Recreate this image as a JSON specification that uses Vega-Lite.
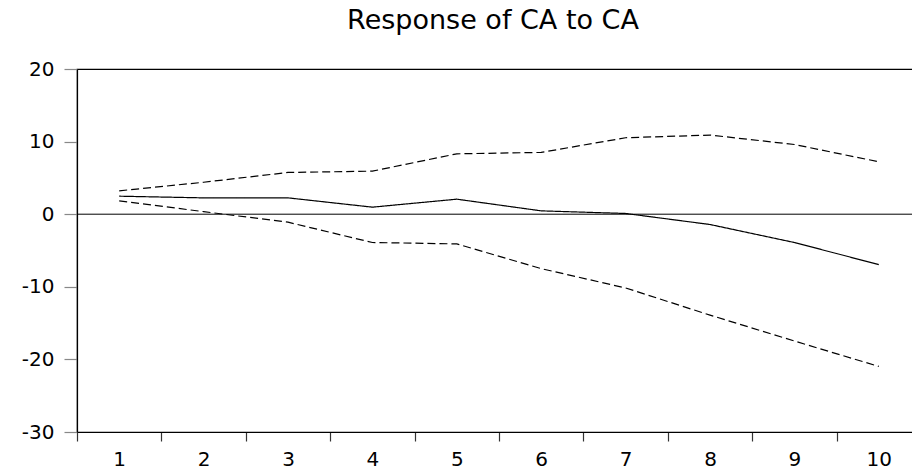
{
  "$schema": "https://vega.github.io/schema/vega-lite/v6.json",
  "width": 844,
  "height": 363,
  "autosize": {"type": "none"},
  "padding": {"left": 77, "top": 69, "right": 0, "bottom": 38},
  "background": "white",
  "title": {
    "text": "Response of CA to CA",
    "font": "DejaVu Sans",
    "fontSize": 27,
    "fontWeight": "normal",
    "color": "black",
    "anchor": "middle",
    "baseline": "alphabetic",
    "offset": 3,
    "dx": -6
  },
  "config": {
    "view": {"stroke": "black", "strokeWidth": 1.2},
    "axis": {
      "labelFont": "DejaVu Sans",
      "labelFontSize": 20,
      "labelColor": "black",
      "grid": false,
      "title": null,
      "domainColor": "black",
      "domainWidth": 1.2
    }
  },
  "datasets": {
    "irf": [
      {"period": 1, "series": "Response", "value": 2.48},
      {"period": 2, "series": "Response", "value": 2.25},
      {"period": 3, "series": "Response", "value": 2.25},
      {"period": 4, "series": "Response", "value": 0.97},
      {"period": 5, "series": "Response", "value": 2.07},
      {"period": 6, "series": "Response", "value": 0.46},
      {"period": 7, "series": "Response", "value": 0.1},
      {"period": 8, "series": "Response", "value": -1.42},
      {"period": 9, "series": "Response", "value": -3.9},
      {"period": 10, "series": "Response", "value": -6.94},
      {"period": 1, "series": "Upper", "value": 3.22},
      {"period": 2, "series": "Upper", "value": 4.4},
      {"period": 3, "series": "Upper", "value": 5.75},
      {"period": 4, "series": "Upper", "value": 5.93},
      {"period": 5, "series": "Upper", "value": 8.32},
      {"period": 6, "series": "Upper", "value": 8.51},
      {"period": 7, "series": "Upper", "value": 10.53},
      {"period": 8, "series": "Upper", "value": 10.9},
      {"period": 9, "series": "Upper", "value": 9.6},
      {"period": 10, "series": "Upper", "value": 7.22},
      {"period": 1, "series": "Lower", "value": 1.84},
      {"period": 2, "series": "Lower", "value": 0.35},
      {"period": 3, "series": "Lower", "value": -1.1},
      {"period": 4, "series": "Lower", "value": -3.9},
      {"period": 5, "series": "Lower", "value": -4.09},
      {"period": 6, "series": "Lower", "value": -7.5},
      {"period": 7, "series": "Lower", "value": -10.16},
      {"period": 8, "series": "Lower", "value": -13.9},
      {"period": 9, "series": "Lower", "value": -17.47},
      {"period": 10, "series": "Lower", "value": -20.97}
    ]
  },
  "layer": [
    {
      "data": {"values": [{"zero": 0}]},
      "mark": {"type": "rule", "color": "black", "strokeWidth": 1},
      "encoding": {
        "y": {"field": "zero", "type": "quantitative", "scale": {"domain": [-30, 20]}}
      }
    },
    {
      "data": {"name": "irf"},
      "mark": {"type": "line", "color": "black", "strokeWidth": 1.2},
      "encoding": {
        "x": {
          "field": "period",
          "type": "ordinal",
          "bandPosition": 0.5,
          "scale": {"type": "band", "paddingInner": 0, "paddingOuter": 0},
          "axis": {
            "labelAngle": 0,
            "tickBand": "extent",
            "tickSize": 9,
            "tickColor": "#333333",
            "tickWidth": 1.2,
            "labelPadding": 8,
            "labelBaseline": "top"
          }
        },
        "y": {
          "field": "value",
          "type": "quantitative",
          "scale": {"domain": [-30, 20], "nice": false, "zero": false},
          "axis": {
            "values": [-30, -20, -10, 0, 10, 20],
            "labelExpr": "datum.value < 0 ? '-' + abs(datum.value) : '' + datum.value",
            "tickSize": 13,
            "tickColor": "#888888",
            "tickWidth": 1.2,
            "labelPadding": 10
          }
        },
        "detail": {"field": "series"},
        "strokeDash": {
          "field": "series",
          "type": "nominal",
          "scale": {"domain": ["Response", "Upper", "Lower"], "range": [[1, 0], [8, 4], [8, 4]]},
          "legend": null
        }
      }
    }
  ]
}
